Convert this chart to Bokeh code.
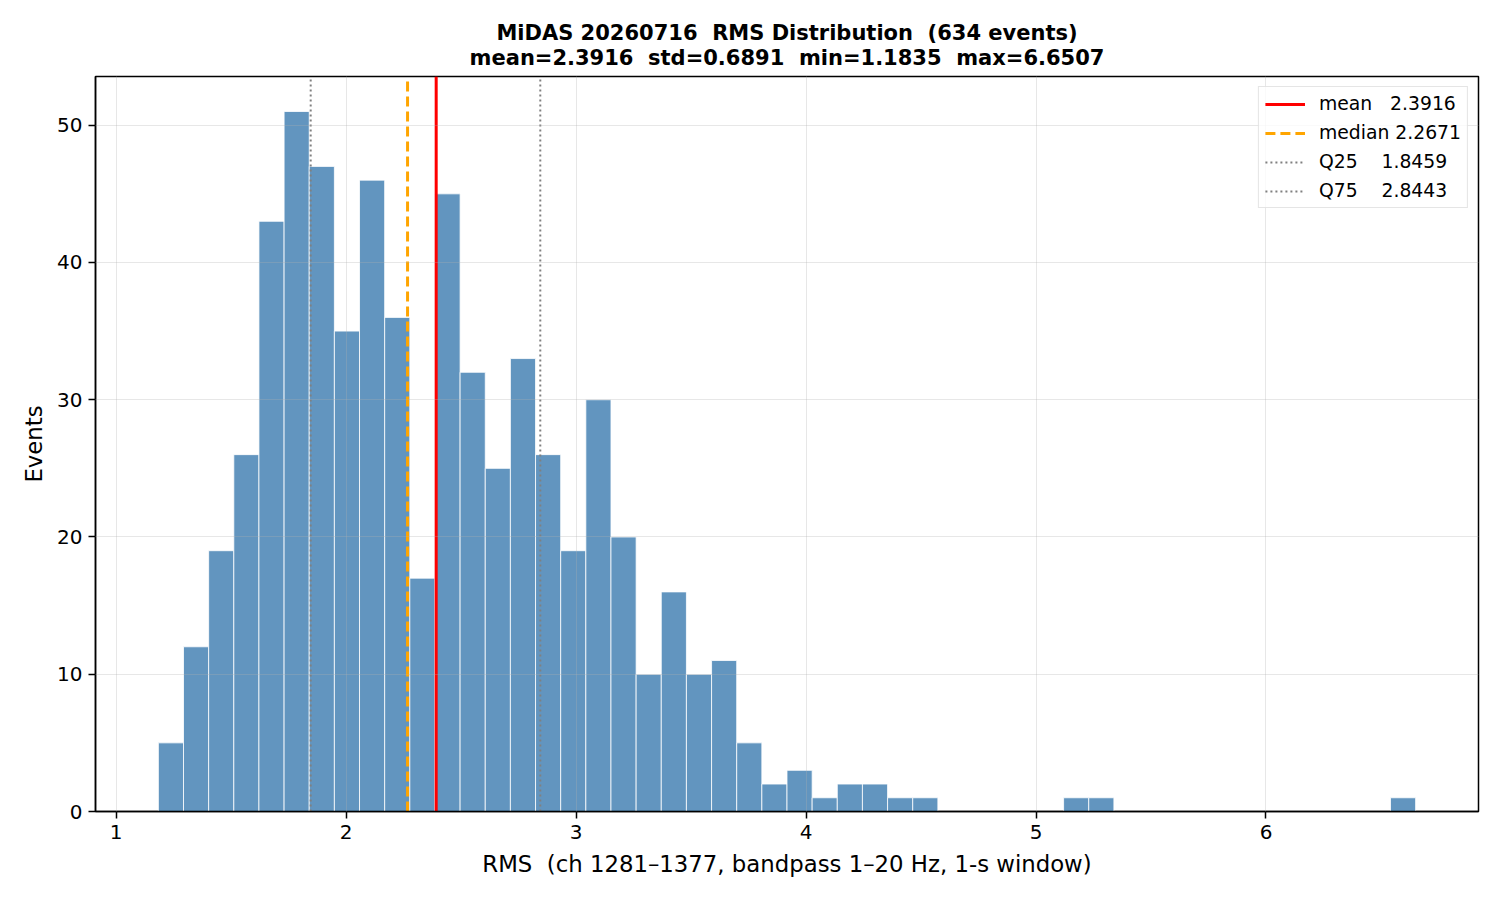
import numpy as np
from bokeh.plotting import figure
from bokeh.models import Range1d, Title, Legend, LegendItem, FixedTicker
from bokeh.embed import file_html
from bokeh.resources import INLINE

# histogram counts per bin (50 bins between min and max)
counts = [5, 12, 19, 26, 43, 51, 47, 35, 46, 36,
          17, 45, 32, 25, 33, 26, 19, 30, 20, 10,
          16, 10, 11, 5, 2, 3, 1, 2, 2, 1,
          1, 0, 0, 0, 0, 0, 1, 1, 0, 0,
          0, 0, 0, 0, 0, 0, 0, 0, 0, 1]
rms_min = 1.1835
rms_max = 6.6507
n_events = 634
rms_mean = 2.3916
rms_std = 0.6891
rms_median = 2.2671
rms_q25 = 1.8459
rms_q75 = 2.8443
x_ticks = [1, 2, 3, 4, 5, 6]
y_ticks = [0, 10, 20, 30, 40, 50]

edges = np.linspace(rms_min, rms_max, len(counts) + 1)
span = rms_max - rms_min
x_lo, x_hi = rms_min - 0.05 * span, rms_max + 0.05 * span
y_hi = max(counts) * 1.05

FONT = "DejaVu Sans"
SP2 = "\u00a0\u00a0"  # keep double spaces in svg text

p = figure(width=1500, height=900, output_backend="svg", toolbar_location=None,
           x_range=Range1d(x_lo, x_hi), y_range=Range1d(0, y_hi),
           min_border_left=95, min_border_right=22,
           min_border_top=76, min_border_bottom=89)

line1 = f"MiDAS 20260716{SP2}RMS Distribution{SP2}({n_events} events)"
line2 = (f"mean={rms_mean:.4f}{SP2}std={rms_std:.4f}{SP2}"
         f"min={rms_min:.4f}{SP2}max={rms_max:.4f}")
p.add_layout(Title(text=line2, align="center", text_font=FONT, text_font_size="21px",
                   text_font_style="bold", text_color="black", standoff=14), "above")
p.add_layout(Title(text=line1, align="center", text_font=FONT, text_font_size="21px",
                   text_font_style="bold", text_color="black", standoff=-17), "above")

p.quad(left=edges[:-1], right=edges[1:], bottom=0, top=counts,
       fill_color="steelblue", fill_alpha=0.85, line_color="white", line_width=0.8)

r_mean = p.segment(x0=[rms_mean], y0=[0], x1=[rms_mean], y1=[y_hi],
                   line_color="red", line_width=3)
r_med = p.segment(x0=[rms_median], y0=[0], x1=[rms_median], y1=[y_hi],
                  line_color="orange", line_width=3, line_dash="10 5")
r_q25 = p.segment(x0=[rms_q25], y0=[0], x1=[rms_q25], y1=[y_hi],
                  line_color="gray", line_width=2, line_dash="2 3")
r_q75 = p.segment(x0=[rms_q75], y0=[0], x1=[rms_q75], y1=[y_hi],
                  line_color="gray", line_width=2, line_dash="2 3")

legend = Legend(items=[
    LegendItem(label=f"mean   {rms_mean:.4f}", renderers=[r_mean]),
    LegendItem(label=f"median {rms_median:.4f}", renderers=[r_med]),
    LegendItem(label=f"Q25    {rms_q25:.4f}", renderers=[r_q25]),
    LegendItem(label=f"Q75    {rms_q75:.4f}", renderers=[r_q75]),
], location="top_right")
legend.label_text_font = FONT
legend.label_text_font_size = "18.8px"
legend.label_text_color = "black"
legend.glyph_width = 40
legend.glyph_height = 20
legend.label_height = 20
legend.label_standoff = 14
legend.spacing = 8
legend.padding = 6
legend.margin = 10
legend.border_line_color = "#cccccc"
legend.border_line_width = 1.5
legend.background_fill_alpha = 0.8
p.add_layout(legend)

p.xaxis.ticker = FixedTicker(ticks=x_ticks)
p.yaxis.ticker = FixedTicker(ticks=y_ticks)
p.xaxis.axis_label = f"RMS{SP2}(ch 1281\u20131377, bandpass 1\u201320 Hz, 1-s window)"
p.yaxis.axis_label = "Events"
for ax in (p.xaxis, p.yaxis):
    ax.axis_label_text_font = FONT
    ax.axis_label_text_font_size = "22.8px"
    ax.axis_label_text_font_style = "normal"
    ax.major_label_text_font = FONT
    ax.major_label_text_font_size = "20px"
    ax.major_label_text_color = "black"
    ax.axis_label_text_color = "black"
    ax.axis_line_color = "black"
    ax.axis_line_width = 1.5
    ax.major_tick_line_width = 1.5
    ax.major_tick_out = 7
    ax.major_tick_in = 0
    ax.minor_tick_line_color = None
    ax.major_label_standoff = 6
p.xaxis.axis_label_standoff = 9
p.yaxis.axis_label_standoff = 7

p.grid.grid_line_color = "#b0b0b0"
p.grid.grid_line_alpha = 0.3
p.grid.grid_line_width = 1
p.grid.level = "overlay"

p.outline_line_color = "black"
p.outline_line_width = 1.5
p.background_fill_color = "white"
p.border_fill_color = "white"

open("out.html", "w").write(file_html(p, INLINE))
